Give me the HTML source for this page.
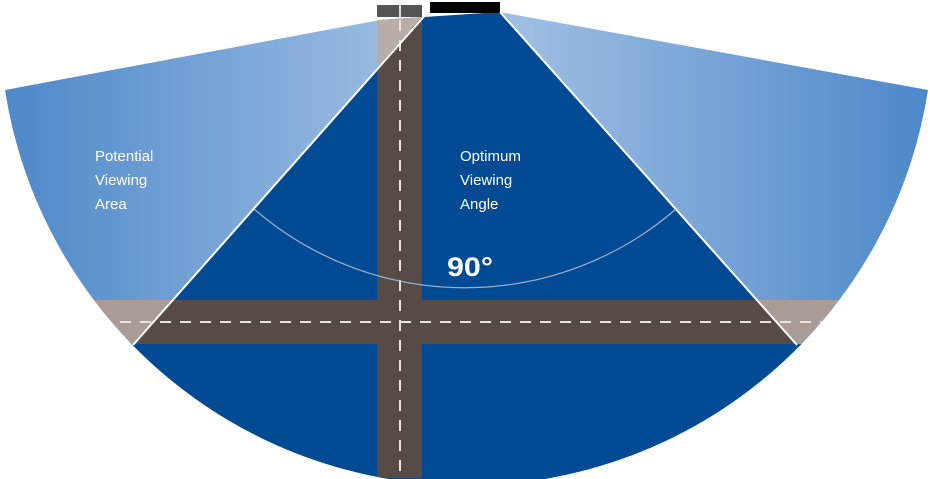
<!DOCTYPE html>
<html><head><meta charset="utf-8"><style>
html,body{margin:0;padding:0;background:#fff;width:930px;height:479px;overflow:hidden}
svg{display:block}
text{font-family:"Liberation Sans",sans-serif;fill:#fff}
</style></head><body>
<svg width="930" height="479" viewBox="0 0 930 479" xmlns="http://www.w3.org/2000/svg">
<defs>
<linearGradient id="gl" x1="0" y1="0" x2="1" y2="0">
<stop offset="0" stop-color="#4d88c9"/><stop offset="1" stop-color="#a9c5e6"/>
</linearGradient>
<linearGradient id="gr" x1="0" y1="0" x2="1" y2="0">
<stop offset="0" stop-color="#a9c5e6"/><stop offset="1" stop-color="#4d88c9"/>
</linearGradient>
<clipPath id="fan"><path d="M380,20 L5,90 A467,467 0 0 0 928,90 L500,12 Z"/></clipPath>
</defs>
<g clip-path="url(#fan)">
<rect x="0" y="0" width="465" height="479" fill="url(#gl)"/>
<rect x="465" y="0" width="465" height="479" fill="url(#gr)"/>
<path d="M428,12 L500,12 L795,342 L930,342 L930,479 L0,479 L0,342 L135,342 Z" fill="#024a93"/>
<rect x="0" y="300" width="930" height="44" fill="#a99c96"/>
<path d="M172,300 L757,300 L796,344 L134,344 Z" fill="#574b47"/>
<rect x="377" y="8" width="45" height="470" fill="#574b47"/>
<path d="M377,8 L422,8 L422,17 L377,68 Z" fill="#b9ada8"/>
<line x1="0" y1="322" x2="930" y2="322" stroke="#e8e4e2" stroke-width="2" stroke-dasharray="11,9"/>
<line x1="400" y1="20" x2="400" y2="479" stroke="#e8e4e2" stroke-width="2" stroke-dasharray="11,9"/>
</g>
<rect x="377" y="5" width="45" height="12" fill="#555"/>
<line x1="400" y1="5" x2="400" y2="17" stroke="#ddd" stroke-width="2"/>
<rect x="430" y="2" width="70" height="11" fill="#000"/>
<line x1="428" y1="12" x2="133" y2="345" stroke="#fff" stroke-width="2"/>
<line x1="500" y1="12" x2="797" y2="345" stroke="#fff" stroke-width="2"/>
<path d="M254,209 A322,322 0 0 0 676,209" fill="none" stroke="#9fb1cc" stroke-width="1.2"/>
<g font-size="15">
<text x="95" y="161">Potential</text>
<text x="95" y="185">Viewing</text>
<text x="95" y="209">Area</text>
<text x="460" y="161">Optimum</text>
<text x="460" y="185">Viewing</text>
<text x="460" y="209">Angle</text>
</g>
<text x="447" y="276" font-size="27" font-weight="bold" textLength="46" lengthAdjust="spacingAndGlyphs">90°</text>
</svg>
</body></html>
